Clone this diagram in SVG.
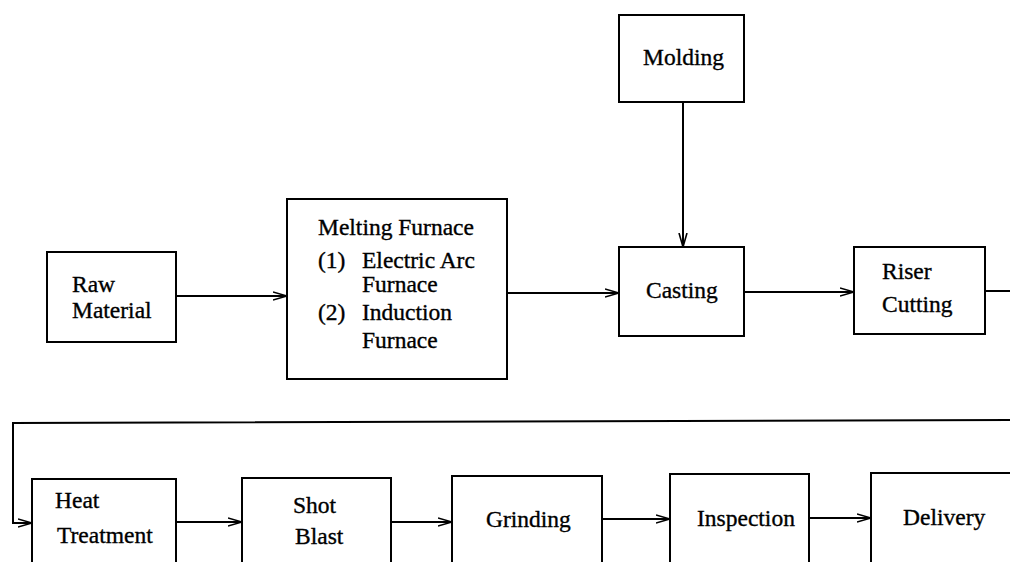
<svg xmlns="http://www.w3.org/2000/svg" width="1010" height="562" viewBox="0 0 1010 562">
<style>
.box{fill:#fff;stroke:#000;stroke-width:2}
.t{font-family:"Liberation Serif","Times New Roman",serif;font-size:23.5px;fill:#000;stroke:#000;stroke-width:0.35}
.c{fill:none;stroke:#000;stroke-width:2}
</style>
<defs>
<marker id="ah" markerUnits="userSpaceOnUse" markerWidth="14" markerHeight="10" viewBox="0 0 14 10" refX="14" refY="5" orient="auto">
<path d="M0,1 L14,5 L0,9" fill="none" stroke="#000" stroke-width="1.6"/>
</marker>
</defs>
<rect width="1010" height="562" fill="#fff"/>
<g id="connectors">
<line class="c" x1="176" y1="296" x2="287" y2="296" marker-end="url(#ah)"/>
<line class="c" x1="507" y1="293" x2="619" y2="293" marker-end="url(#ah)"/>
<line class="c" x1="683" y1="102" x2="683" y2="247" marker-end="url(#ah)"/>
<line class="c" x1="744" y1="292" x2="854" y2="292" marker-end="url(#ah)"/>
<line class="c" x1="985" y1="291" x2="1010" y2="291"/>
<polyline class="c" points="1010,420 13,423 13,523 32,523" marker-end="url(#ah)"/>
<line class="c" x1="176" y1="522" x2="242" y2="522" marker-end="url(#ah)"/>
<line class="c" x1="391" y1="522" x2="452" y2="522" marker-end="url(#ah)"/>
<line class="c" x1="602" y1="519" x2="670" y2="519" marker-end="url(#ah)"/>
<line class="c" x1="809" y1="518" x2="871" y2="518" marker-end="url(#ah)"/>
</g>
<g id="raw-material">
<rect class="box" x="47" y="252" width="129" height="90"/>
<text class="t" x="72" y="292">Raw</text>
<text class="t" x="72" y="318">Material</text>
</g>
<g id="melting-furnace">
<rect class="box" x="287" y="199" width="220" height="180"/>
<text class="t" x="318" y="235">Melting Furnace</text>
<text class="t" x="318" y="268">(1)</text>
<text class="t" x="362" y="268">Electric Arc</text>
<text class="t" x="362" y="292">Furnace</text>
<text class="t" x="318" y="320">(2)</text>
<text class="t" x="362" y="320">Induction</text>
<text class="t" x="362" y="348">Furnace</text>
</g>
<g id="molding">
<rect class="box" x="619" y="15" width="125" height="87"/>
<text class="t" x="643" y="65">Molding</text>
</g>
<g id="casting">
<rect class="box" x="619" y="247" width="125" height="89"/>
<text class="t" x="646" y="298">Casting</text>
</g>
<g id="riser-cutting">
<rect class="box" x="854" y="247" width="131" height="87"/>
<text class="t" x="882" y="279">Riser</text>
<text class="t" x="882" y="312">Cutting</text>
</g>
<g id="heat-treatment">
<rect class="box" x="32" y="479" width="144" height="100"/>
<text class="t" x="55" y="508">Heat</text>
<text class="t" x="57" y="543">Treatment</text>
</g>
<g id="shot-blast">
<rect class="box" x="242" y="478" width="149" height="100"/>
<text class="t" x="293" y="513">Shot</text>
<text class="t" x="295" y="544">Blast</text>
</g>
<g id="grinding">
<rect class="box" x="452" y="476" width="150" height="100"/>
<text class="t" x="486" y="527">Grinding</text>
</g>
<g id="inspection">
<rect class="box" x="670" y="474" width="139" height="100"/>
<text class="t" x="697" y="526">Inspection</text>
</g>
<g id="delivery">
<rect class="box" x="871" y="473" width="160" height="100"/>
<text class="t" x="903" y="525">Delivery</text>
</g>
</svg>
